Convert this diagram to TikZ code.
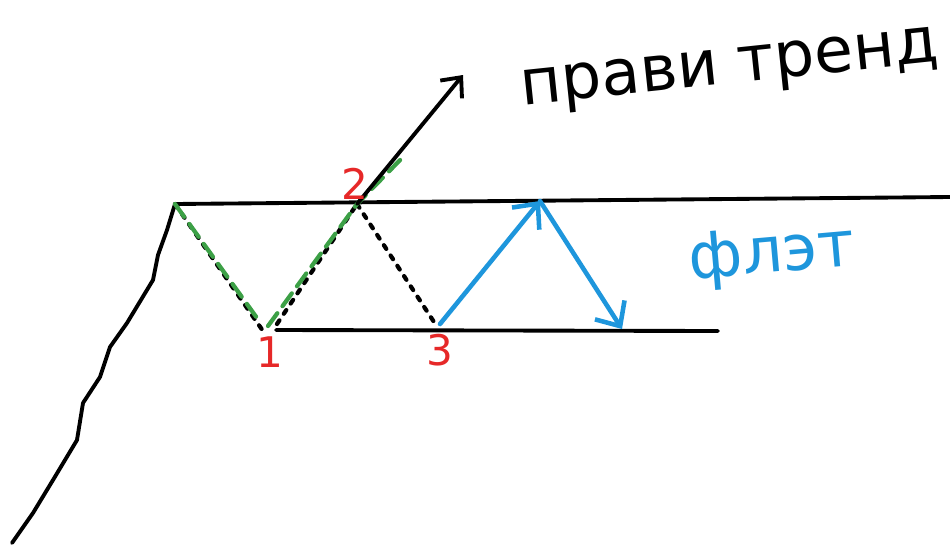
\documentclass[tikz,border=0pt]{standalone}
\usepackage{fontspec}
\setmainfont{DejaVu Sans}
\usetikzlibrary{arrows.meta}
\definecolor{wavegreen}{RGB}{60,160,70}
\definecolor{flatblue}{RGB}{30,150,220}
\definecolor{markred}{RGB}{230,40,40}

\begin{document}
\begin{tikzpicture}[x=0.02cm, y=-0.02cm, line join=round, line cap=round]
\tikzset{
  pen/.style={draw=black, line width=2.2pt},
  dots/.style={draw=black, line width=2.4pt, dash pattern=on 2.5pt off 4.5pt},
  greendash/.style={draw=wavegreen, line width=2.4pt, dash pattern=on 9pt off 5pt},
  arr/.style={-{Straight Barb[length=9pt, width=16pt, line width=2.2pt]}, line width=2.2pt},
  bluearr/.style={-{Straight Barb[length=11pt, width=20pt, line width=2.6pt]}, draw=flatblue, line width=2.6pt},
  num/.style={text=markred, font=\fontsize{24}{28}\selectfont},
  word/.style={font=\fontsize{36}{40}\selectfont},
}
\useasboundingbox (0,0) rectangle (950,545);
% wave points
\coordinate (top) at (175,204);
\coordinate (p1) at (263,331);
\coordinate (p1r) at (277,324);
\coordinate (g1) at (257,318);
\coordinate (g1r) at (268,326);
\coordinate (p2) at (357,204);
\coordinate (g2) at (405,155);
\coordinate (p3) at (434,322);
\coordinate (p3r) at (440,324);
\coordinate (fltop) at (540,201);
\coordinate (flbot) at (622,329);
\coordinate (go) at (463,75);
% trend
\draw[pen] (12,543) -- (33,513) -- (53,480) -- (77,440) -- (83,403) -- (100,377)
  -- (110,347) -- (127,323) -- (153,280) -- (158,255) -- (167,230) -- (top);
% range borders
\draw[pen] (top) -- (950,197);
\draw[pen] (276,330) -- (718,331);
% black dotted path
\draw[dots] (top) -- (p1);
\draw[dots] (p1r) -- (p2);
\draw[dots] (p2) -- (p3);
% green dashed path
\draw[greendash] (top) -- (g1);
\draw[greendash] (g1r) -- (p2) -- (g2);
% breakout
\draw[arr] (p2) -- (go);
% flat
\draw[bluearr] (p3r) -- (fltop);
\draw[bluearr] (fltop) -- (flbot);
% labels
\node[num] (n1) at (270,352) {1};
\node[num] (n2) at (355,184) {2};
\node[num] (n3) at (440,350) {3};
\node[word, rotate=6] (trend) at (730,72) {прави тренд};
\node[word, text=flatblue, rotate=5] (flat) at (772,256) {флэт};
\end{tikzpicture}
\end{document}
